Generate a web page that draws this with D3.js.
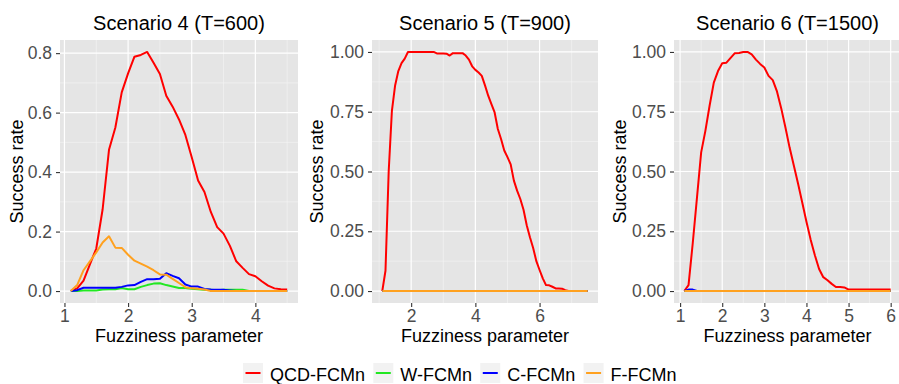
<!DOCTYPE html>
<html>
<head>
<meta charset="utf-8">
<script src="https://cdn.jsdelivr.net/npm/d3@7.9.0/dist/d3.min.js"></script>
<style>
  body { margin: 0; background: #fff; }
  svg { display: block; font-family: "Liberation Sans", Arial, sans-serif; }
</style>
</head>
<body>
<svg width="899" height="384"></svg>
<script>
// fuzziness grid (each scenario uses the first n values)
const fuzz = [1.1, 1.2, 1.3, 1.4, 1.5, 1.6, 1.7, 1.8, 1.9, 2.0,
  2.1, 2.2, 2.3, 2.4, 2.5, 2.6, 2.7, 2.8, 2.9, 3.0,
  3.1, 3.2, 3.3, 3.4, 3.5, 3.6, 3.7, 3.8, 3.9, 4.0,
  4.1, 4.2, 4.3, 4.4, 4.5, 4.6, 4.7, 4.8, 4.9, 5.0,
  5.1, 5.2, 5.3, 5.4, 5.5, 5.6, 5.7, 5.8, 5.9, 6.0,
  6.1, 6.2, 6.3, 6.4, 6.5, 6.6, 6.7, 6.8, 6.9, 7.0,
  7.1, 7.2, 7.3, 7.4, 7.5];

const methods = ['QCD-FCMn', 'W-FCMn', 'C-FCMn', 'F-FCMn'];
const methodColors = ['#FF0000', '#22E822', '#0000FF', '#FFA11F'];
const titles = ['Scenario 4 (T=600)', 'Scenario 5 (T=900)', 'Scenario 6 (T=1500)'];

// Scenario 4: fuzz 1.1 .. 4.5
const qcd4 = [0, 0.009, 0.035, 0.09, 0.143, 0.275, 0.475, 0.55, 0.668, 0.732,
  0.788, 0.794, 0.804, 0.768, 0.73, 0.657, 0.62, 0.577, 0.525, 0.45,
  0.372, 0.333, 0.266, 0.215, 0.193, 0.152, 0.1, 0.078, 0.057, 0.05,
  0.033, 0.018, 0.009, 0.006, 0.005];
const w4 = [0, 0, 0.002, 0.002, 0.002, 0.005, 0.006, 0.006, 0.01, 0.006,
  0.006, 0.014, 0.02, 0.025, 0.026, 0.02, 0.015, 0.01, 0.01, 0.008,
  0.006, 0.004, 0.004, 0.003, 0.004, 0.004, 0.004, 0.004, 0, 0,
  0, 0, 0, 0, 0];
const c4 = [0, 0.003, 0.011, 0.011, 0.011, 0.011, 0.011, 0.011, 0.014, 0.019,
  0.02, 0.031, 0.04, 0.04, 0.041, 0.06, 0.051, 0.043, 0.022, 0.015,
  0.015, 0.007, 0.005, 0.004, 0.004, 0.002, 0, 0, 0, 0,
  0, 0, 0, 0, 0];
const f4 = [0, 0.02, 0.07, 0.1, 0.13, 0.163, 0.184, 0.146, 0.145, 0.122,
  0.102, 0.092, 0.082, 0.07, 0.056, 0.055, 0.041, 0.027, 0.013, 0.009,
  0.008, 0.005, 0, 0, 0, 0, 0, 0, 0, 0,
  0, 0, 0, 0, 0];

// Scenario 5: fuzz 1.1 .. 7.5
const qcd5 = [0, 0.085, 0.5, 0.754, 0.86, 0.92, 0.953, 0.972, 1, 1,
  1, 1, 1, 1, 1, 1, 1, 0.994, 0.994, 0.994,
  0.993, 0.985, 0.995, 0.995, 0.995, 0.995, 0.985, 0.968, 0.94, 0.925,
  0.914, 0.9, 0.86, 0.817, 0.782, 0.747, 0.678, 0.636, 0.588, 0.56,
  0.53, 0.462, 0.42, 0.385, 0.34, 0.275, 0.225, 0.18, 0.125, 0.088,
  0.053, 0.025, 0.024, 0.018, 0.011, 0.011, 0.01, 0.004, 0, 0,
  0, 0, 0, 0, 0];
const w5 = [0, 0, 0, 0, 0, 0, 0, 0, 0, 0, 0, 0, 0, 0, 0, 0, 0, 0, 0, 0, 0, 0,
  0, 0, 0, 0, 0, 0, 0, 0, 0, 0, 0, 0, 0, 0, 0, 0, 0, 0, 0, 0, 0, 0,
  0, 0, 0, 0, 0, 0, 0, 0, 0, 0, 0, 0, 0, 0, 0, 0, 0, 0, 0, 0, 0];
const c5 = [0, 0, 0, 0, 0, 0, 0, 0, 0, 0, 0, 0, 0, 0, 0, 0, 0, 0, 0, 0, 0, 0,
  0, 0, 0, 0, 0, 0, 0, 0, 0, 0, 0, 0, 0, 0, 0, 0, 0, 0, 0, 0, 0, 0,
  0, 0, 0, 0, 0, 0, 0, 0, 0, 0, 0, 0, 0, 0, 0, 0, 0, 0, 0, 0, 0];
const f5 = [0, 0, 0, 0, 0, 0, 0, 0, 0, 0, 0, 0, 0, 0, 0, 0, 0, 0, 0, 0, 0, 0,
  0, 0, 0, 0, 0, 0, 0, 0, 0, 0, 0, 0, 0, 0, 0, 0, 0, 0, 0, 0, 0, 0,
  0, 0, 0, 0, 0, 0, 0, 0, 0, 0, 0, 0, 0, 0, 0, 0, 0, 0, 0, 0, 0];

// Scenario 6: fuzz 1.1 .. 6.0
const qcd6 = [0, 0.025, 0.2, 0.39, 0.58, 0.67, 0.775, 0.872, 0.92, 0.953,
  0.955, 0.975, 0.995, 0.996, 1, 1, 0.99, 0.968, 0.95, 0.935,
  0.9, 0.882, 0.835, 0.765, 0.685, 0.6, 0.525, 0.45, 0.37, 0.29,
  0.215, 0.15, 0.092, 0.058, 0.045, 0.03, 0.017, 0.017, 0.015, 0.006,
  0.006, 0.006, 0.006, 0.006, 0.006, 0.006, 0.006, 0.006, 0.006, 0.006];
const w6 = [0, 0, 0, 0, 0, 0, 0, 0, 0, 0, 0, 0, 0, 0, 0, 0, 0, 0, 0, 0, 0, 0, 0, 0, 0,
  0, 0, 0, 0, 0, 0, 0, 0, 0, 0, 0, 0, 0, 0, 0, 0, 0, 0, 0, 0, 0, 0, 0, 0, 0];
const c6 = [0, 0.006, 0.006, 0, 0, 0, 0, 0, 0, 0, 0, 0, 0, 0, 0, 0, 0, 0, 0, 0, 0, 0, 0, 0, 0,
  0, 0, 0, 0, 0, 0, 0, 0, 0, 0, 0, 0, 0, 0, 0, 0, 0, 0, 0, 0, 0, 0, 0, 0, 0];
const f6 = [0, 0, 0, 0, 0, 0, 0, 0, 0, 0, 0, 0, 0, 0, 0, 0, 0, 0, 0, 0, 0, 0, 0, 0, 0,
  0, 0, 0, 0, 0, 0, 0, 0, 0, 0, 0, 0, 0, 0, 0, 0, 0, 0, 0, 0, 0, 0, 0, 0, 0];

const xTicks4 = [1, 2, 3, 4];
const xTicks5 = [2, 4, 6];
const xTicks6 = [1, 2, 3, 4, 5, 6];
const yTicks4 = [0, 0.2, 0.4, 0.6, 0.8];
const yTicks56 = [0, 0.25, 0.5, 0.75, 1];

const svg = d3.select('svg');
const plotTop = 40, plotBottom = 303;

const panels = [
  { title: titles[0], series: [qcd4, w4, c4, f4], xTicks: xTicks4, yTicks: yTicks4, fmt: '.1f', left: 60, right: 298, yTitleX: 17 },
  { title: titles[1], series: [qcd5, w5, c5, f5], xTicks: xTicks5, yTicks: yTicks56, fmt: '.2f', left: 372, right: 598, yTitleX: 317 },
  { title: titles[2], series: [qcd6, w6, c6, f6], xTicks: xTicks6, yTicks: yTicks56, fmt: '.2f', left: 674, right: 901, yTitleX: 620 }
];

// ggplot-style 5% expansion
function padded(lo, hi) {
  const p = (hi - lo) * 0.05;
  return [lo - p, hi + p];
}

// midpoints between major ticks, plus one step outside each end
function minors(ticks, domain) {
  const step = ticks[1] - ticks[0];
  const out = [];
  for (let i = -1; i < ticks.length; i++) out.push(ticks[0] + (i + 0.5) * step);
  return out.filter(v => v >= domain[0] && v <= domain[1]);
}

panels.forEach(p => {
  const n = p.series[0].length;
  const xs = fuzz.slice(0, n);
  const x = d3.scaleLinear().domain(padded(xs[0], xs[n - 1])).range([p.left, p.right]);
  const yMax = d3.max(p.series, s => d3.max(s));
  const y = d3.scaleLinear().domain(padded(0, yMax)).range([plotBottom, plotTop]);

  const g = svg.append('g');

  g.append('rect')
    .attr('x', p.left).attr('y', plotTop)
    .attr('width', p.right - p.left).attr('height', plotBottom - plotTop)
    .attr('fill', '#E5E5E5');

  // grid
  minors(p.xTicks, x.domain()).forEach(v => {
    g.append('line').attr('x1', x(v)).attr('x2', x(v)).attr('y1', plotTop).attr('y2', plotBottom)
      .attr('stroke', '#F5F5F5').attr('stroke-width', 0.6);
  });
  minors(p.yTicks, y.domain()).forEach(v => {
    g.append('line').attr('x1', p.left).attr('x2', p.right).attr('y1', y(v)).attr('y2', y(v))
      .attr('stroke', '#F5F5F5').attr('stroke-width', 0.6);
  });
  p.xTicks.forEach(v => {
    g.append('line').attr('x1', x(v)).attr('x2', x(v)).attr('y1', plotTop).attr('y2', plotBottom)
      .attr('stroke', '#fff').attr('stroke-width', 1.2);
  });
  p.yTicks.forEach(v => {
    g.append('line').attr('x1', p.left).attr('x2', p.right).attr('y1', y(v)).attr('y2', y(v))
      .attr('stroke', '#fff').attr('stroke-width', 1.2);
  });

  // lines, drawn in legend order so F-FCMn ends up on top
  const line = d3.line().x((d, i) => x(xs[i])).y(d => y(d));
  p.series.forEach((s, i) => {
    g.append('path')
      .attr('d', line(s))
      .attr('fill', 'none')
      .attr('stroke', methodColors[i])
      .attr('stroke-width', 2)
      .attr('stroke-linejoin', 'round');
  });

  // axes
  const yAxis = g.append('g')
    .attr('transform', `translate(${p.left},0)`)
    .call(d3.axisLeft(y).tickValues(p.yTicks).tickFormat(d3.format(p.fmt)).tickSize(4).tickPadding(4));
  const xAxis = g.append('g')
    .attr('transform', `translate(0,${plotBottom})`)
    .call(d3.axisBottom(x).tickValues(p.xTicks).tickFormat(d3.format('d')).tickSize(4).tickPadding(3));
  [yAxis, xAxis].forEach(a => {
    a.select('.domain').remove();
    a.selectAll('.tick line').attr('stroke', '#333').attr('stroke-width', 1.1);
    a.selectAll('.tick text').attr('fill', '#4D4D4D').style('font-size', '17.5px')
      .style('font-family', '"Liberation Sans", Arial, sans-serif');
  });

  const cx = (p.left + p.right) / 2;
  g.append('text')
    .attr('x', cx).attr('y', 30)
    .attr('text-anchor', 'middle')
    .style('font-size', '20px')
    .attr('fill', '#000')
    .text(p.title);

  g.append('text')
    .attr('x', cx).attr('y', 341.5)
    .attr('text-anchor', 'middle')
    .style('font-size', '18px')
    .attr('fill', '#000')
    .text('Fuzziness parameter');

  g.append('text')
    .attr('transform', `translate(${p.yTitleX},${(plotTop + plotBottom) / 2}) rotate(-90)`)
    .attr('text-anchor', 'middle')
    .attr('dy', '0.35em')
    .style('font-size', '18px')
    .attr('fill', '#000')
    .text('Success rate');
});

// legend
const legend = svg.append('g');
let lx = 243;
methods.forEach((m, i) => {
  legend.append('rect')
    .attr('x', lx).attr('y', 363).attr('width', 20).attr('height', 20)
    .attr('fill', '#F2F2F2');
  legend.append('line')
    .attr('x1', lx + 2.5).attr('x2', lx + 17.5).attr('y1', 373).attr('y2', 373)
    .attr('stroke', methodColors[i]).attr('stroke-width', 2);
  const t = legend.append('text')
    .attr('x', lx + 27).attr('y', 381)
    .style('font-size', '18px')
    .attr('fill', '#000')
    .text(m);
  lx += 27 + t.node().getComputedTextLength() + 8.3;
});
</script>
</body>
</html>
